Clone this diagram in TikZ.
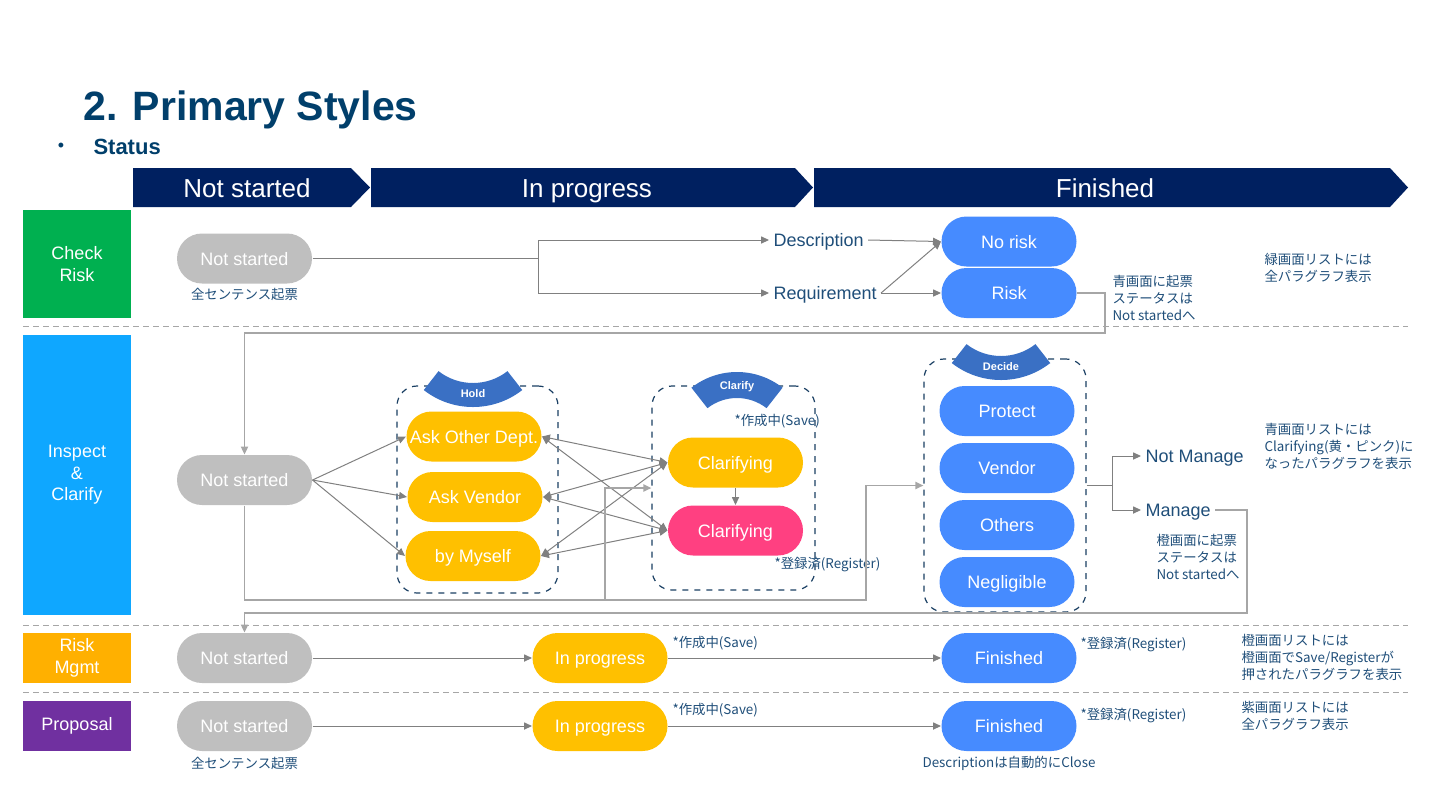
\documentclass[tikz,border=0pt]{standalone}
\usepackage{fontspec}
\setmainfont{Liberation Sans}
\newfontfamily\jp{Noto Sans CJK JP}
\usetikzlibrary{arrows.meta}

\definecolor{navy}{HTML}{002060}
\definecolor{titleblue}{HTML}{013F6B}
\definecolor{txtblue}{HTML}{1F4E79}
\definecolor{boxblue}{HTML}{1A3F63}
\definecolor{pillgray}{HTML}{BFBFBF}
\definecolor{pillblue}{HTML}{468BFF}
\definecolor{pillyellow}{HTML}{FFC000}
\definecolor{pillpink}{HTML}{FF4081}
\definecolor{bannerblue}{HTML}{3A70C4}
\definecolor{arrgray}{HTML}{808080}
\definecolor{backgray}{HTML}{A6A6A6}
\definecolor{checkgreen}{HTML}{00B050}
\definecolor{inspblue}{HTML}{0FA7FF}
\definecolor{mgmtorange}{HTML}{FFB000}
\definecolor{proppurple}{HTML}{7030A0}

\begin{document}
\begin{tikzpicture}[x=0.5pt,y=-0.5pt,line width=0.5pt,>={Triangle[length=4pt,width=3.6pt]},
  pill/.style={rounded corners=12.5pt,minimum width=67.5pt,minimum height=25pt,inner sep=0pt,
    text height=7.6pt,text depth=1pt,text=white,font=\fontsize{9}{10}\selectfont},
  gpill/.style={pill,fill=pillgray},
  bpill/.style={pill,fill=pillblue},
  ypill/.style={pill,fill=pillyellow},
  ppill/.style={pill,fill=pillpink},
  side/.style={text=white,font=\fontsize{9}{10.8}\selectfont,align=center,minimum width=54pt,inner sep=0pt},
  head/.style={text=white,font=\fontsize{13}{14}\selectfont,inner sep=0pt,text height=11.2pt,text depth=1.5pt},
  lbl/.style={text=txtblue,font=\fontsize{9}{10}\selectfont,inner sep=2pt,text height=7.6pt,text depth=1pt},
  note/.style={text=txtblue,font=\jp\fontsize{6.7}{8.5}\selectfont,align=left,inner sep=0pt},
  group/.style={draw=boxblue,dashed,line width=0.6pt,rounded corners=10pt,inner sep=0pt},
  tag/.style={text=white,font=\bfseries\fontsize{5.5}{6}\selectfont,inner sep=0pt},
  conn/.style={draw=arrgray,->},
  back/.style={draw=backgray,line width=0.8pt,->},
  sep/.style={draw=backgray,dash pattern=on 3pt off 2pt}]
  \useasboundingbox (0,0) rectangle (1440,810);
  % title
  \node[anchor=base west,inner sep=0pt,text=titleblue,font=\bfseries\fontsize{20.5}{22}\selectfont] (title) at (83,120) {2. Primary Styles};
  \node[inner sep=0pt,text=titleblue,font=\fontsize{9}{10}\selectfont] (bullet) at (61,147) {•};
  \node[anchor=base west,inner sep=0pt,text=titleblue,font=\bfseries\fontsize{11}{12}\selectfont] (status) at (93,154) {Status};
  % phase chevrons
  \fill[navy] (133,168) -- (351,168) -- (370,187.5) -- (351,207) -- (133,207) -- cycle;
  \fill[navy] (371,168) -- (795,168) -- (813,187.5) -- (795,207) -- (371,207) -- cycle;
  \fill[navy] (814,168) -- (1390,168) -- (1408,187.5) -- (1390,207) -- (814,207) -- cycle;
  \node[head] (hnot) at (247,188) {Not started};
  \node[head] (hprog) at (587,188) {In progress};
  \node[head] (hfin) at (1105,188) {Finished};
  % row labels
  \node[side,fill=checkgreen,minimum height=54pt] (check) at (77,264) {Check\\Risk};
  \node[side,fill=inspblue,minimum height=140pt] (inspect) at (77,475) {Inspect\\\&\\Clarify};
  \node[side,fill=mgmtorange,minimum height=25pt] (mgmt) at (77,658) {Risk\\Mgmt};
  \node[side,fill=proppurple,minimum height=25pt] (proposal) at (77,726) {Proposal};
  % separators
  \foreach \y in {326,625,692} \draw[sep] (23,\y) -- (1408,\y);

  % --- Check Risk
  \node[gpill] (ns1) at (244.5,258.5) {Not started};
  \node[note,anchor=north] (ns1note) at (244.5,288) {全センテンス起票};
  \node[lbl,anchor=west] (desc) at (769,240) {Description};
  \node[lbl,anchor=west] (req) at (769,293) {Requirement};
  \node[bpill] (norisk) at (1009,241.5) {No risk};
  \node[bpill] (risk) at (1009,293) {Risk};
  \coordinate (split1) at (538,258.5);
  \draw[conn] (ns1.east) -- (split1) |- (desc.west);
  \draw[conn] (split1) |- (req.west);
  \draw[conn] (desc.east) -- (norisk.west);
  \draw[conn] (req.east) -- (norisk.west);
  \draw[conn] (req.east) -- (risk.west);
  \node[note,anchor=west] (risknote) at (1112,298) {青画面に起票\\ステータスは\\Not startedへ};
  \node[note,anchor=west] (greennote) at (1264,268) {緑画面リストには\\全パラグラフ表示};

  % --- Inspect & Clarify
  \node[group,minimum width=80.5pt,minimum height=103.5pt] (holdbox) at (477.5,489.5) {};
  \node[group,minimum width=81.5pt,minimum height=102pt] (clarbox) at (733.5,488) {};
  \node[group,minimum width=81pt,minimum height=126.5pt] (decbox) at (1005,485.5) {};
  \fill[bannerblue,shift={(473,327)}] (52:80) arc[start angle=52,end angle=128,radius=80] -- (128:56) arc[start angle=128,end angle=52,radius=56] -- cycle;
  \fill[bannerblue,shift={(737,446)}] (232:74) arc[start angle=232,end angle=308,radius=74] -- (308:48) arc[start angle=308,end angle=232,radius=48] -- cycle;
  \fill[bannerblue,shift={(1001,300)}] (52:80) arc[start angle=52,end angle=128,radius=80] -- (128:56) arc[start angle=128,end angle=52,radius=56] -- cycle;
  \node[tag] (holdtag) at (473,394) {Hold};
  \node[tag] (clartag) at (737,387) {Clarify};
  \node[tag] (dectag) at (1001,367) {Decide};

  \node[gpill] (insns) at (244.5,480) {Not started};
  \node[ypill] (askdept) at (474,436.5) {Ask Other Dept.};
  \node[ypill] (askvend) at (475,497) {Ask Vendor};
  \node[ypill] (myself) at (473,556) {by Myself};
  \node[ypill] (clar1) at (735.5,462.5) {Clarifying};
  \node[ppill] (clar2) at (735.5,530.5) {Clarifying};
  \node[note,anchor=west] (savenote) at (734,421) {*作成中(Save)};
  \node[note,anchor=west] (regnote) at (774,565) {*登録済(Register)};
  \node[bpill] (protect) at (1007,411) {Protect};
  \node[bpill] (vendor) at (1007,468) {Vendor};
  \node[bpill] (others) at (1007,525) {Others};
  \node[bpill] (neglig) at (1007,582) {Negligible};
  \node[lbl,anchor=west] (notman) at (1141,456) {Not Manage};
  \node[lbl,anchor=west] (manage) at (1141,510) {Manage};
  \node[note,anchor=west] (mannote) at (1156,557) {橙画面に起票\\ステータスは\\Not startedへ};
  \node[note,anchor=west] (bluenote) at (1264,446) {青画面リストには\\Clarifying(黄・ピンク)に\\なったパラグラフを表示};

  \foreach \h in {askdept,askvend,myself} {
    \draw[conn] (insns.east) -- (\h.west);
    \foreach \c in {clar1,clar2} \draw[conn,<->] (\h.east) -- (\c.west);
  }
  \draw[conn] (clar1) -- (clar2);
  \coordinate (split2) at (1112,485.5);
  \draw[conn] (decbox.east) -- (split2) |- (notman.west);
  \draw[conn] (split2) |- (manage.west);
  % return lines
  \coordinate (bendA) at (1105,333);
  \coordinate (bendB) at (866,600);
  \coordinate (bendC) at (605,600);
  \coordinate (bendD) at (1247,613);
  \draw[back] (risk.east) -| (bendA) -| (insns.north);
  \draw[back] (insns.south) |- (bendB) |- (decbox.west);
  \draw[back] (bendC) |- (clarbox.west);

  % --- Risk Mgmt
  \node[gpill] (rmns) at (244.5,658) {Not started};
  \node[ypill] (rmprog) at (600,658) {In progress};
  \node[bpill] (rmfin) at (1009,658) {Finished};
  \draw[back] (manage.east) -| (bendD) -| (rmns.north);
  \draw[conn] (rmns) -- (rmprog);
  \draw[conn] (rmprog) -- (rmfin);
  \node[note,anchor=west] (rmsave) at (672,643) {*作成中(Save)};
  \node[note,anchor=west] (rmreg) at (1080,645) {*登録済(Register)};
  \node[note,anchor=west] (rmnote) at (1241,657) {橙画面リストには\\橙画面でSave/Registerが\\押されたパラグラフを表示};

  % --- Proposal
  \node[gpill] (prns) at (244.5,726) {Not started};
  \node[ypill] (prprog) at (600,726) {In progress};
  \node[bpill] (prfin) at (1009,726) {Finished};
  \draw[conn] (prns) -- (prprog);
  \draw[conn] (prprog) -- (prfin);
  \node[note,anchor=west] (prsave) at (672,710) {*作成中(Save)};
  \node[note,anchor=west] (prreg) at (1080,716) {*登録済(Register)};
  \node[note,anchor=west] (prnote) at (1241,716) {紫画面リストには\\全パラグラフ表示};
  \node[note] (prnsnote) at (244.5,763) {全センテンス起票};
  \node[note] (prfinnote) at (1009,763) {Descriptionは自動的にClose};
\end{tikzpicture}
\end{document}
